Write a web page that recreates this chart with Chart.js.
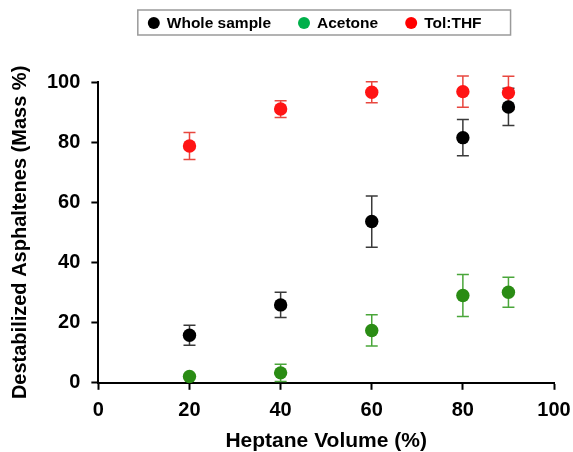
<!DOCTYPE html>
<html>
<head>
<meta charset="utf-8">
<script src="https://cdn.jsdelivr.net/npm/chart.js@4/dist/chart.umd.min.js"></script>
<style>
  body { margin: 0; background: #fff; }
  canvas { display: block; }
</style>
</head>
<body>
<canvas id="chart" width="573" height="452"></canvas>
<script>
// heptane volume (%) on x
const heptane = [20, 40, 60, 80, 90];

const wholeSample = [15.8, 25.9, 53.6, 81.5, 91.7];
const wholeSampleErr = [3.3, 4.2, 8.5, 6.0, 6.2];

const acetone = [2.1, 3.3, 17.4, 29.0, 30.1];
const acetoneErr = [0, 2.9, 5.2, 7.0, 5.0];

const tolThf = [78.7, 91.0, 96.6, 96.8, 96.4];
const tolThfErr = [4.5, 2.8, 3.5, 5.2, 5.5];

const xTicks = [0, 20, 40, 60, 80, 100];
const yTicks = [0, 20, 40, 60, 80, 100];

const FONT = "'Liberation Sans', Arial, sans-serif";

function points(ys) {
    return heptane.map((x, i) => ({ x: x, y: ys[i] }));
}

// vertical error bars with caps, drawn under the markers
const errorBars = {
    id: "errorBars",
    beforeDatasetsDraw(chart) {
        const ctx = chart.ctx;
        const yScale = chart.scales.y;
        chart.data.datasets.forEach((ds, di) => {
            const meta = chart.getDatasetMeta(di);
            ctx.save();
            ctx.strokeStyle = ds.errorColor;
            ctx.lineWidth = 1.5;
            meta.data.forEach((pt, i) => {
                const err = ds.errors[i];
                if (!err) return;
                const v = ds.data[i].y;
                const top = yScale.getPixelForValue(v + err);
                const bot = yScale.getPixelForValue(v - err);
                const cap = 6;
                ctx.beginPath();
                ctx.moveTo(pt.x, top);
                ctx.lineTo(pt.x, bot);
                ctx.moveTo(pt.x - cap, top);
                ctx.lineTo(pt.x + cap, top);
                ctx.moveTo(pt.x - cap, bot);
                ctx.lineTo(pt.x + cap, bot);
                ctx.stroke();
            });
            ctx.restore();
        });
    },
};

// boxed legend across the top
const boxLegend = {
    id: "boxLegend",
    afterDraw(chart) {
        const ctx = chart.ctx;
        const area = chart.chartArea;
        ctx.save();
        ctx.font = "bold 15.5px " + FONT;
        ctx.textBaseline = "middle";
        const items = chart.data.datasets.map((ds) => ({
            label: ds.label,
            color: ds.legendColor,
            w: ctx.measureText(ds.label).width,
        }));
        const r = 6, gapText = 13, gapItem = 33, padL = 16, padR = 29;
        let total = padL + padR;
        items.forEach((it, i) => {
            total += gapText + it.w + (i < items.length - 1 ? gapItem : 0);
        });
        const left = (area.left + area.right) / 2 - total / 2 - 2;
        const top = 10, h = 25, cy = top + h / 2 + 0.5;

        ctx.strokeStyle = "#9a9a9a";
        ctx.lineWidth = 1.5;
        ctx.strokeRect(left, top, total, h);

        let cx = left + padL;
        items.forEach((it) => {
            ctx.fillStyle = it.color;
            ctx.beginPath();
            ctx.arc(cx, cy, r, 0, Math.PI * 2);
            ctx.fill();
            ctx.fillStyle = "#000";
            ctx.fillText(it.label, cx + gapText, cy + 1);
            cx += gapText + it.w + gapItem;
        });
        ctx.restore();
    },
};

const ctx = document.getElementById("chart").getContext("2d");
new Chart(ctx, {
    type: "scatter",
    data: {
        datasets: [
            {
                label: "Whole sample",
                data: points(wholeSample),
                errors: wholeSampleErr,
                backgroundColor: "#000000",
                legendColor: "#000000",
                errorColor: "#3a3a3a",
            },
            {
                label: "Acetone",
                data: points(acetone),
                errors: acetoneErr,
                backgroundColor: "#2a8c14",
                legendColor: "#00b04a",
                errorColor: "#4aa63a",
            },
            {
                label: "Tol:THF",
                data: points(tolThf),
                errors: tolThfErr,
                backgroundColor: "#ff1414",
                legendColor: "#ff0000",
                errorColor: "#e8473f",
            },
        ],
    },
    options: {
        responsive: false,
        animation: false,
        clip: false,
        elements: {
            point: { radius: 6.7, borderWidth: 0, hoverRadius: 6.7 },
        },
        layout: {
            padding: { top: 82, left: 8, right: 0, bottom: 0 },
        },
        plugins: {
            legend: { display: false },
            tooltip: { enabled: false },
        },
        scales: {
            x: {
                type: "linear",
                min: 0,
                max: 100,
                afterBuildTicks: (s) => { s.ticks = xTicks.map((v) => ({ value: v })); },
                afterFit: (s) => { s.paddingRight = 19; },
                grid: {
                    drawOnChartArea: false,
                    tickLength: 7,
                    tickWidth: 2,
                    tickColor: "#000",
                },
                border: { display: true, color: "#000", width: 2 },
                ticks: {
                    color: "#000",
                    padding: 9,
                    font: { family: FONT, size: 20, weight: "bold" },
                },
                title: {
                    display: true,
                    text: "Heptane Volume (%)",
                    color: "#000",
                    padding: { top: -3, bottom: -2 },
                    font: { family: FONT, size: 21, weight: "bold" },
                },
            },
            y: {
                type: "linear",
                min: 0,
                max: 100,
                afterBuildTicks: (s) => { s.ticks = yTicks.map((v) => ({ value: v })); },
                grid: {
                    drawOnChartArea: false,
                    tickLength: 7,
                    tickWidth: 2,
                    tickColor: "#000",
                },
                border: { display: true, color: "#000", width: 2 },
                ticks: {
                    color: "#000",
                    padding: 11,
                    font: { family: FONT, size: 20, weight: "bold" },
                },
                title: {
                    display: true,
                    text: "Destabilized Asphaltenes (Mass %)",
                    color: "#000",
                    padding: { top: 0, bottom: 4 },
                    font: { family: FONT, size: 20, weight: "bold" },
                },
            },
        },
    },
    plugins: [errorBars, boxLegend],
});
</script>
</body>
</html>
